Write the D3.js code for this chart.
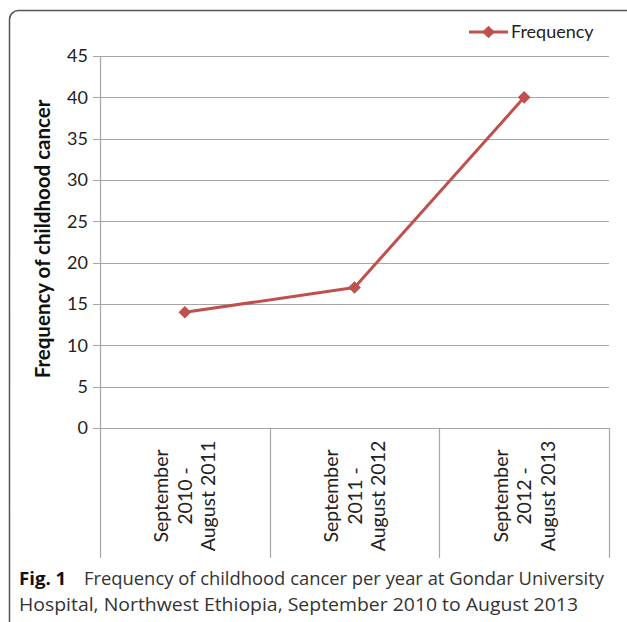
<!DOCTYPE html>
<html>
<head>
<meta charset="utf-8">
<script src="https://cdn.jsdelivr.net/npm/d3@7"></script>
<style>
  body { margin: 0; background: #fff; }
</style>
</head>
<body>
<div id="chart"></div>
<script>
const width = 627, height = 622;

const periods = [
  ["September", "2010 -", "August 2011"],
  ["September", "2011 -", "August 2012"],
  ["September", "2012 -", "August 2013"]
];
const frequency = [14, 17, 40];
const yTicks = [0, 5, 10, 15, 20, 25, 30, 35, 40, 45];
const seriesName = "Frequency";
const yLabel = "Frequency of childhood cancer";

const red = "#c0504d";
const grid = "#a6a6a6";
const chartFont = "Lato, 'Open Sans', sans-serif";

let margin = {top: 56, right: 18, bottom: 194, left: 100};

let svg = d3.select("#chart").append("svg")
    .attr("width", width)
    .attr("height", height);

// outer rounded frame
svg.append("rect")
    .attr("x", 9.5)
    .attr("y", 10.5)
    .attr("width", 640)
    .attr("height", 640)
    .attr("rx", 9)
    .attr("fill", "none")
    .attr("stroke", "#555")
    .attr("stroke-width", 1.5);

let x = d3.scaleBand()
    .domain(d3.range(periods.length))
    .range([margin.left, width - margin.right]);

let y = d3.scaleLinear()
    .domain([0, 45])
    .range([height - margin.bottom, margin.top]);

// gridlines
svg.append("g")
    .selectAll("line")
    .data(yTicks)
    .join("line")
        .attr("x1", margin.left - 7)
        .attr("x2", width - margin.right)
        .attr("y1", d => Math.round(y(d)) + 0.5)
        .attr("y2", d => Math.round(y(d)) + 0.5)
        .attr("stroke", grid)
        .attr("stroke-width", 1.2);

// y axis line
svg.append("line")
    .attr("x1", margin.left + 0.5)
    .attr("x2", margin.left + 0.5)
    .attr("y1", y(45))
    .attr("y2", y(0) + 130)
    .attr("stroke", grid)
    .attr("stroke-width", 1.2);

// category separators below axis
let bounds = d3.range(1, periods.length + 1).map(i => x(i - 1) + x.bandwidth());
svg.append("g")
    .selectAll("line")
    .data(bounds)
    .join("line")
        .attr("x1", d => Math.round(d) + 0.5)
        .attr("x2", d => Math.round(d) + 0.5)
        .attr("y1", y(0))
        .attr("y2", y(0) + 130)
        .attr("stroke", grid)
        .attr("stroke-width", 1.2);

// y tick labels
svg.append("g")
    .attr("font-family", chartFont)
    .attr("font-size", 18)
    .attr("fill", "#222")
    .attr("text-anchor", "end")
    .selectAll("text")
    .data(yTicks)
    .join("text")
        .attr("x", margin.left - 12)
        .attr("y", d => y(d))
        .attr("dy", "0.35em")
        .text(d => d);

// y axis title
svg.append("text")
    .attr("transform", `translate(50,${(y(0) + y(45)) / 2 - 3}) rotate(-90)`)
    .attr("text-anchor", "middle")
    .attr("font-family", chartFont)
    .attr("font-weight", "bold")
    .attr("font-size", 20.5)
    .attr("fill", "#111")
    .text(yLabel);

// x category labels, rotated
let xl = svg.append("g")
    .attr("font-family", chartFont)
    .attr("font-size", 19.5)
    .attr("fill", "#222");
periods.forEach((lines, i) => {
    let cx = x(i) + x.bandwidth() / 2;
    let g = xl.append("g")
        .attr("transform", `translate(${cx},${y(0) + 68}) rotate(-90)`);
    g.selectAll("text")
        .data(lines)
        .join("text")
            .attr("text-anchor", "middle")
            .attr("x", 0)
            .attr("y", (d, j) => (j - 1) * 23.5 + 7)
            .text(d => d);
});

// line series
let pts = frequency.map((v, i) => [x(i) + x.bandwidth() / 2, y(v)]);
svg.append("path")
    .datum(pts)
    .attr("fill", "none")
    .attr("stroke", red)
    .attr("stroke-width", 3)
    .attr("stroke-linejoin", "round")
    .attr("d", d3.line());

let marker = d3.symbol().type(d3.symbolSquare).size(80);
svg.append("g")
    .selectAll("path")
    .data(pts)
    .join("path")
        .attr("transform", d => `translate(${d[0]},${d[1]}) rotate(45)`)
        .attr("d", marker)
        .attr("fill", red);

// legend
let lg = svg.append("g").attr("transform", "translate(469,32)");
lg.append("line")
    .attr("x1", 0).attr("x2", 39)
    .attr("stroke", red).attr("stroke-width", 3);
lg.append("path")
    .attr("transform", "translate(19.5,0) rotate(45)")
    .attr("d", marker)
    .attr("fill", red);
lg.append("text")
    .attr("x", 42)
    .attr("dy", "0.35em")
    .attr("font-family", chartFont)
    .attr("font-size", 18)
    .attr("fill", "#222")
    .text(seriesName);

// caption
let cap = svg.append("g")
    .attr("font-family", "'Open Sans', sans-serif")
    .attr("font-size", 18.6)
    .attr("fill", "#333");
cap.append("text")
    .attr("x", 19).attr("y", 585)
    .attr("font-weight", "bold").attr("fill", "#111")
    .text("Fig. 1");
cap.append("text")
    .attr("x", 84).attr("y", 585)
    .attr("textLength", 520).attr("lengthAdjust", "spacingAndGlyphs")
    .text("Frequency of childhood cancer per year at Gondar University");
cap.append("text")
    .attr("x", 19).attr("y", 611)
    .attr("textLength", 559).attr("lengthAdjust", "spacingAndGlyphs")
    .text("Hospital, Northwest Ethiopia, September 2010 to August 2013");
</script>
</body>
</html>
